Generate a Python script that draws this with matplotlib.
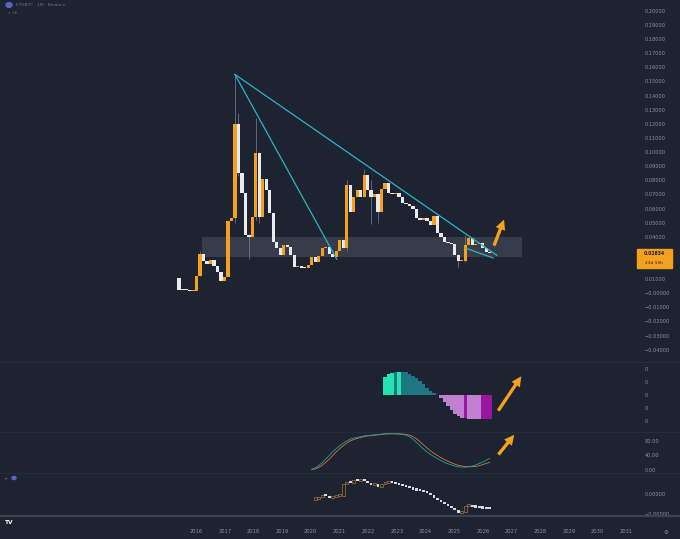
import matplotlib.pyplot as plt
import matplotlib.dates as mdates
from matplotlib.patches import Rectangle
import pandas as pd

BG = '#1d2331'
TXT = '#8f94a0'
ORANGE = '#f5a01f'
WHITE = '#e8eaef'
CYAN = '#2bb5c6'
SEP = '#283044'

# ETHBTC candles (each open = previous close)
first_open = 0.0105
closes = [
    0.0025, 0.0022, 0.0020, 0.0018, 0.0019,
    0.0125, 0.0275, 0.0225, 0.0205, 0.0235,
    0.0190, 0.0150, 0.0085, 0.0115, 0.0510,
    0.0530, 0.1200, 0.0850, 0.0710, 0.0410,
    0.0395, 0.0540, 0.0990, 0.0540, 0.0810,
    0.0730, 0.0565, 0.0360, 0.0320, 0.0270,
    0.0340, 0.0330, 0.0270, 0.0185, 0.0195,
    0.0180, 0.0176, 0.0200, 0.0257, 0.0220,
    0.0262, 0.0320, 0.0330, 0.0280, 0.0257,
    0.0300, 0.0375, 0.0320, 0.0765, 0.0576,
    0.0680, 0.0730, 0.0680, 0.0835, 0.0730,
    0.0680, 0.0700, 0.0576, 0.0740, 0.0780,
    0.0710, 0.0700, 0.0710, 0.0680, 0.0640,
    0.0630, 0.0620, 0.0600, 0.0530, 0.0520,
    0.0535, 0.0510, 0.0480, 0.0550, 0.0425,
    0.0400, 0.0363, 0.0355, 0.0350, 0.0270,
    0.0225, 0.0230, 0.0340, 0.0390, 0.0340,
    0.0350, 0.0355, 0.0320, 0.0290, 0.02834,
]
# visible wicks: candle index -> (low, high)
wicks = {
    6: (0.012, 0.030), 16: (0.050, 0.155), 17: (0.083, 0.128),
    20: (0.024, 0.042), 22: (0.052, 0.124), 23: (0.050, 0.100),
    48: (0.030, 0.080), 53: (0.072, 0.088), 55: (0.049, 0.080),
    57: (0.050, 0.071), 80: (0.0185, 0.028), 82: (0.022, 0.041),
}
candle_dates = pd.date_range('2015-05-30', '2026-04-01', periods=len(closes))

# support zone and trend lines
zone = ('2016-03-15', '2027-05-15', 0.0257, 0.0400)
trend_lines = [
    (('2017-05-10', 0.155), ('2026-06-28', 0.0269)),
    (('2017-05-10', 0.155), ('2020-11-28', 0.0241)),
    (('2025-06-10', 0.0317), ('2026-05-12', 0.0250)),
]

# momentum histogram (lower pane 1)
hist_start = 59
hist = [1.40, 1.60, 1.70, 1.76, 1.80, 1.80, 1.76, 1.66, 1.52, 1.33,
        1.10, 0.86, 0.60, 0.36, 0.15, 0.02, -0.20, -0.50, -0.82, -1.12,
        -1.40, -1.62, -1.75, -1.78, -1.79, -1.80, -1.80, -1.81, -1.82, -1.82,
        -1.83]
hist_state = ['a', 'a', 'a', 'b', 'a', 'b', 'b', 'b', 'b', 'b',
              'b', 'b', 'b', 'b', 'b', 'b', 'c', 'c', 'c', 'c',
              'c', 'c', 'c', 'd', 'c', 'c', 'c', 'c', 'd', 'd',
              'd']
hist_colors = {'a': '#22e3b2', 'b': '#1e7682', 'c': '#c27fd0', 'd': '#9a169f'}

# stoch RSI (lower pane 2)
stoch_start = 38
k_line = [2, 6, 12, 20, 30, 40, 50, 59, 67, 74, 80, 85, 88, 90, 92, 94, 95, 96,
          97, 98, 99, 100, 100, 100, 100, 99, 98, 96, 92, 85, 76, 67, 58, 50,
          43, 37, 31, 26, 21, 17, 14, 11, 9, 8, 8, 9, 11, 14, 18, 22, 27, 32]
d_line = [1, 3, 7, 13, 21, 30, 40, 50, 59, 67, 74, 80, 84, 87, 90, 92, 94, 95,
          96, 97, 98, 99, 100, 100, 100, 100, 99, 98, 96, 92, 86, 78, 69, 61,
          53, 46, 40, 34, 29, 24, 20, 16, 13, 11, 9, 9, 9, 10, 12, 15, 18, 21]

# candle oscillator (lower pane 3)
osc_start = 39
osc_first_open = -0.55
osc = [-0.50, -0.30, -0.10, -0.20, -0.40, -0.30, -0.20, -0.15, 1.00, 1.20,
       1.10, 1.40, 1.30, 1.50, 1.30, 1.10, 0.90, 1.00, 0.70, 1.00,
       1.10, 1.12, 1.10, 1.00, 0.90, 0.80, 0.70, 0.60, 0.45, 0.35,
       0.30, 0.20, 0.10, -0.10, -0.40, -0.60, -0.80, -1.00, -1.20, -1.40,
       -1.60, -1.90, -1.80, -1.20, -1.10, -1.30, -1.35, -1.40, -1.45, -1.50,
       -1.52]

# 0.03 sits under the last-price label, so it has no text
price_ticks = [0.20, 0.19, 0.18, 0.17, 0.16, 0.15, 0.14, 0.13, 0.12, 0.11, 0.10,
               0.09, 0.08, 0.07, 0.06, 0.05, 0.04, 0.02, 0.01, 0.0,
               -0.01, -0.02, -0.03, -0.04]
years = list(range(2016, 2032))

W, H = 680, 539
fig = plt.figure(figsize=(6.8, 5.39), dpi=100, facecolor=BG)
xmin = mdates.datestr2num('2009-02-28')
xmax = mdates.datestr2num('2031-05-08')


def panel(top, bottom):
    ax = fig.add_axes([0, 1 - bottom / H, 636 / W, (bottom - top) / H])
    ax.set_facecolor(BG)
    for s in ax.spines.values():
        s.set_visible(False)
    ax.set_xlim(xmin, xmax)
    ax.tick_params(axis='x', bottom=False, labelbottom=False)
    ax.yaxis.tick_right()
    ax.tick_params(axis='y', length=0, labelsize=3.6, labelcolor=TXT, pad=6)
    return ax


t = mdates.date2num(candle_dates)
step = t[1] - t[0]
arrow_style = 'simple,head_width=0.9,head_length=0.9,tail_width=0.3'

# ---- main price pane
ax = panel(0, 362)
ax.set_ylim(-0.0487, 0.2077)
opens = [first_open] + closes[:-1]
for i, (lo, hi) in wicks.items():
    ax.vlines(t[i], lo, hi, color='#7d8290', lw=0.5, zorder=2)
cols = [ORANGE if c >= o else WHITE for o, c in zip(opens, closes)]
bots = [min(o, c) for o, c in zip(opens, closes)]
hts = [max(abs(c - o), 0.0008) for o, c in zip(opens, closes)]
ax.bar(t, hts, bottom=bots, width=step * 0.92, color=cols, lw=0, zorder=3)
zx0, zx1 = mdates.datestr2num(zone[0]), mdates.datestr2num(zone[1])
ax.add_patch(Rectangle((zx0, zone[2]), zx1 - zx0, zone[3] - zone[2],
                       facecolor='#c8ccd6', alpha=0.15, lw=0, zorder=1))
for (d0, v0), (d1, v1) in trend_lines:
    ax.plot([mdates.datestr2num(d0), mdates.datestr2num(d1)], [v0, v1],
            color=CYAN, lw=0.9, zorder=4)
ax.annotate('', xy=(mdates.datestr2num('2026-10-12'), 0.054),
            xytext=(mdates.datestr2num('2026-05-12'), 0.0319),
            arrowprops=dict(arrowstyle=arrow_style, color=ORANGE, lw=0,
                            mutation_scale=8), zorder=5)
ax.set_yticks(price_ticks)
ax.set_yticklabels([('−0.00000' if v == 0 else f'{v:.5f}'.replace('-', '−'))
                    for v in price_ticks])

# ---- histogram pane
ax2 = panel(362, 432)
ax2.set_ylim(-2.82, 2.56)
th = t[hist_start:hist_start + len(hist)]
ax2.bar(th, hist, width=step, color=[hist_colors[s] for s in hist_state], lw=0)
ax2.annotate('', xy=(mdates.datestr2num('2027-05-27'), 1.64),
             xytext=(mdates.datestr2num('2026-06-28'), -1.36),
             arrowprops=dict(arrowstyle=arrow_style, color=ORANGE, lw=0,
                             mutation_scale=8),
             annotation_clip=False)
ax2.set_yticks([2, 1, 0, -1, -2])
ax2.set_yticklabels(['0'] * 5)

# ---- stoch pane
ax3 = panel(432, 473)
ax3.set_ylim(-8.3, 104.8)
ts = t[stoch_start:stoch_start + len(k_line)]
ax3.plot(ts, d_line, color='#d9773a', lw=0.6)
ax3.plot(ts, k_line, color='#2a9d9a', lw=0.6)
ax3.annotate('', xy=(mdates.datestr2num('2027-03-01'), 103),
             xytext=(mdates.datestr2num('2026-06-28'), 36.7),
             arrowprops=dict(arrowstyle=arrow_style, color=ORANGE, lw=0,
                             mutation_scale=8),
             annotation_clip=False)
ax3.set_yticks([80, 40, 0])
ax3.set_yticklabels(['80.00', '40.00', '0.00'])

# ---- oscillator pane
ax4 = panel(473, 516)
ax4.set_ylim(-2.2, 2.1)
to = t[osc_start:osc_start + len(osc)]
oo = [osc_first_open] + osc[:-1]
for x, o, c in zip(to, oo, osc):
    b = min(o, c)
    h = max(abs(c - o), 0.25)
    if c >= o:
        ax4.add_patch(Rectangle((x - step * 0.4, b), step * 0.8, h,
                                facecolor='none', edgecolor='#a8743a', lw=0.5))
    else:
        ax4.add_patch(Rectangle((x - step * 0.4, b), step * 0.8, h,
                                facecolor='#d5d8e0', lw=0))
ax4.set_yticks([0, -2])
ax4.set_yticklabels(['0.00000', '−2.00000'])

# ---- time axis
axt = fig.add_axes([0, 0, 636 / W, 23 / H])
axt.set_facecolor(BG)
for s in axt.spines.values():
    s.set_visible(False)
axt.set_xlim(xmin, xmax)
axt.set_yticks([])
axt.set_xticks([mdates.datestr2num(f'{y}-01-01') for y in years])
axt.set_xticklabels([str(y) for y in years])
axt.tick_params(axis='x', length=0, labelsize=3.7, labelcolor=TXT, pad=-7)

# separators
for y, c, lw in [(362, SEP, 0.5), (432, SEP, 0.5), (473, SEP, 0.5), (516, '#3a4254', 1.6)]:
    fig.add_artist(plt.Line2D([0, 1], [1 - y / H, 1 - y / H], color=c, lw=lw))

# price label
fig.add_artist(Rectangle((637 / W, 1 - 268 / H), 35 / W, 19 / H, color=ORANGE))
fig.text(654 / W, 1 - 253.5 / H, '0.02834', fontsize=3.3, color=BG, ha='center',
         va='center', fontweight='bold')
fig.text(654 / W, 1 - 262.5 / H, '23d 15h', fontsize=3.1, color=BG, ha='center', va='center')

# header / misc
fig.add_artist(plt.Circle((9 / W, 1 - 5 / H), 3 / W, color='#5b62c9'))
fig.text(16 / W, 1 - 5 / H, 'ETHBTC · 1M · Binance', fontsize=3.2, color='#6f7482', va='center')
fig.text(8 / W, 1 - 13 / H, '∨ 16', fontsize=2.8, color='#6f7482', va='center')
fig.text(5 / W, 1 - 478 / H, '▾', fontsize=3, color='#6f7482', va='center')
fig.add_artist(plt.Circle((14 / W, 1 - 478 / H), 2 / W, color='#5b62c9'))
fig.text(5 / W, 1 - 522 / H, 'TV', fontsize=4.2, color='white', va='center', fontweight='bold')
fig.text(664 / W, 1 - 532 / H, '⚙', fontsize=4, color=TXT, va='center')

fig.savefig('out.png', dpi=100, facecolor=BG)
